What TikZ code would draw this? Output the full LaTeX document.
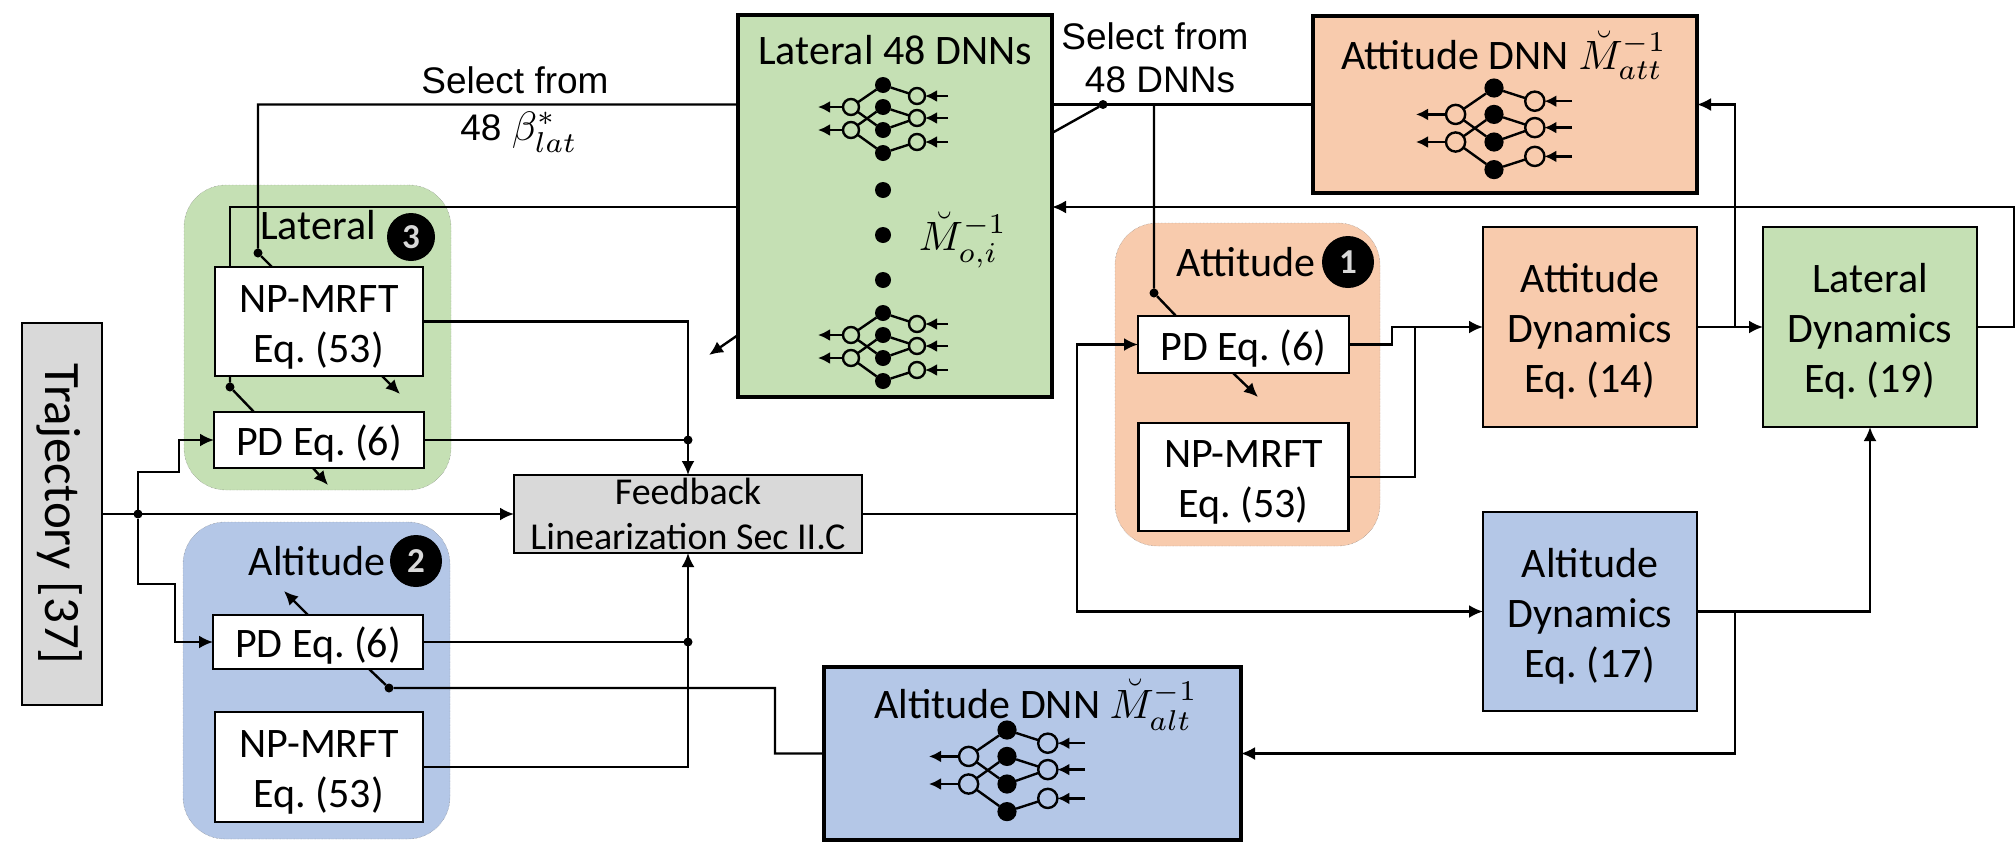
\documentclass[tikz,border=0pt]{standalone}
\usepackage[no-math]{fontspec}
\setmainfont{Carlito}
\newfontfamily\arialfont{Liberation Sans}
\usepackage{amsmath}
\usetikzlibrary{positioning, arrows.meta}
\definecolor{attfill}{HTML}{F8CBAD}
\definecolor{latfill}{HTML}{C5E0B4}
\definecolor{altfill}{HTML}{B4C7E7}
\definecolor{grayfill}{HTML}{D9D9D9}
\newcommand{\bigmath}[1]{\scalebox{4.1}{\normalsize$#1$}}
\newcommand{\lowtext}{\rule{0pt}{38pt}}
\newcommand{\dnnicon}[4]{%
  \foreach \k/\yy in {1/0,2/22,3/45,4/68}
    \node[fullnode, minimum size=#4*16pt] (#1b\k) at (#2,#3+#4*\yy) {};
  \foreach \k/\yy in {1/22,2/45}{
    \node[opennode, minimum size=#4*16pt] (#1l\k) at (#2-#4*32,#3+#4*\yy) {};
    \coordinate (#1o\k) at (#2-#4*65,#3+#4*\yy);
    \draw[smallarrow] (#1l\k) -- (#1o\k);}
  \foreach \k/\yy in {1/11,2/33,3/57}{
    \node[opennode, minimum size=#4*16pt] (#1r\k) at (#2+#4*34,#3+#4*\yy) {};
    \coordinate (#1i\k) at (#2+#4*65,#3+#4*\yy);
    \draw[smallarrow] (#1i\k) -- (#1r\k);}
  \foreach \a/\b in {l1/b1,l1/b3,l2/b2,l2/b4,b1/r1,b2/r2,b3/r2,b4/r3}
    \draw[line width=2.4pt] (#1\a) -- (#1\b);}
\begin{document}
\frenchspacing
\begin{tikzpicture}[x=1pt, y=-1pt,
    box/.style={rectangle, draw=black, fill=white, line width=2.4pt, align=center, inner sep=0pt, outer sep=0pt,
        font=\fontsize{42}{50}\selectfont},
    dnnbox/.style={box, line width=3.6pt},
    groupbox/.style={rectangle, rounded corners=42pt, draw=black!55, densely dotted, thin, inner sep=0pt, outer sep=0pt},
    grouplabel/.style={font=\fontsize{42}{50}\selectfont},
    selectlabel/.style={font=\fontsize{37}{44}\arialfont\selectfont, align=center},
    badge/.style={circle, fill=black, text=white!85!black, inner sep=0pt, minimum size=#1, font=\fontsize{35}{35}\bfseries\selectfont},
    fullnode/.style={circle, fill=black, inner sep=0pt, outer sep=0pt},
    opennode/.style={circle, draw=black, line width=2.4pt, inner sep=0pt, outer sep=0pt},
    dot/.style={circle, fill=black, inner sep=0pt, outer sep=0pt, minimum size=9pt},
    conn/.style={line width=2.4pt},
    arrow/.style={-{Latex[length=14pt, width=13pt]}, line width=2.4pt},
    smallarrow/.style={-{Latex[length=12pt, width=12pt]}, line width=2.4pt}]
\useasboundingbox (0,0) rectangle (2016,860);

\node[groupbox, fill=latfill, minimum width=267pt, minimum height=305pt] (groupLat) at (317.5,337.5) {};
\node[groupbox, fill=altfill, minimum width=267pt, minimum height=317pt] (groupAlt) at (316.5,680.5) {};
\node[groupbox, fill=attfill, minimum width=265pt, minimum height=323pt] (groupAtt) at (1247.5,384.5) {};

\node[box, fill=grayfill, minimum width=80pt, minimum height=382pt] (traj) at (62,514) {};
\node[rotate=-90, font=\fontsize{51}{51}\selectfont] (trajText) at (60,514) {Trajectory [37]};
\node[box, fill=grayfill, minimum width=348pt, minimum height=78pt, font=\fontsize{38}{45}\selectfont] (feedback) at (688,514) {Feedback\\Linearization Sec II.C};

\node[box, minimum width=208pt, minimum height=109pt] (npLat) at (319,321.5) {\lowtext NP-MRFT\\Eq. (53)};
\node[box, minimum width=210pt, minimum height=56pt, below=36pt of npLat] (pdLat) {\lowtext PD Eq. (6)};
\node[box, minimum width=210pt, minimum height=54pt] (pdAlt) at (318,642) {\lowtext PD Eq. (6)};
\node[box, minimum width=208pt, minimum height=110pt] (npAlt) at (319,767) {\lowtext NP-MRFT\\Eq. (53)};
\node[box, minimum width=211pt, minimum height=57pt] (pdAtt) at (1243.5,344.5) {\lowtext PD Eq. (6)};
\node[box, minimum width=210pt, minimum height=108pt, below=50pt of pdAtt] (npAtt) {\lowtext NP-MRFT\\Eq. (53)};

\node[grouplabel] (labLat) at (318,225) {Lateral};
\node[badge=48pt] (numLat) at (411,237) {3};
\node[grouplabel] (labAlt) at (317,561) {Altitude};
\node[badge=52pt] (numAlt) at (416,561) {2};
\node[grouplabel] (labAtt) at (1246,262) {Attitude};
\node[badge=52pt] (numAtt) at (1348,262) {1};

\node[dnnbox, fill=latfill, minimum width=314pt, minimum height=382pt] (latDnn) at (895,206) {};
\node[grouplabel] (latDnnText) at (895,50) {Lateral 48 DNNs};
\node[grouplabel] (latDnnSym) at (963,240) {\bigmath{\breve{M}_{o,i}^{-1}}};
\node[dnnbox, fill=attfill, minimum width=384pt, minimum height=177pt] (attDnn) at (1505,104.5) {};
\node[grouplabel] (attDnnText) at (1504,55) {Attitude DNN \bigmath{\breve{M}_{att}^{-1}}};
\node[dnnbox, fill=altfill, minimum width=417pt, minimum height=173pt] (altDnn) at (1032.5,753.5) {};
\node[grouplabel] (altDnnText) at (1036,705) {Altitude DNN \bigmath{\breve{M}_{alt}^{-1}}};

\node[box, fill=attfill, minimum width=214pt, minimum height=200pt] (attDyn) at (1590,327) {\lowtext Attitude\\Dynamics\\Eq. (14)};
\node[box, fill=latfill, minimum width=214pt, minimum height=200pt, right=66pt of attDyn] (latDyn) {\lowtext Lateral\\Dynamics\\Eq. (19)};
\node[box, fill=altfill, minimum width=214pt, minimum height=199pt, below=85pt of attDyn] (altDyn) {\lowtext Altitude\\Dynamics\\Eq. (17)};

\dnnicon{netA}{883}{85}{1}
\foreach \k/\yy in {1/190,2/235,3/280} \node[fullnode, minimum size=16pt] (bigDot\k) at (883,\yy) {};
\dnnicon{netB}{883}{313}{1}
\dnnicon{netC}{1494}{88}{1.2}
\dnnicon{netD}{1007}{730}{1.2}

\node[selectlabel] (selLatA) at (515,80) {Select from};
\node[selectlabel] (selLatB) at (519,132) {48 \bigmath{\beta_{lat}^{*}}};
\node[selectlabel] (selDnnA) at (1155,36) {Select from};
\node[selectlabel] (selDnnB) at (1160,80) {48 DNNs};

\node[dot] (dotInput) at (138,514) {};
\node[dot] (dotSelLat) at (258,253) {};
\node[dot] (dotNpLat) at (230,387) {};
\node[dot] (dotDnn) at (1103,104.5) {};
\node[dot] (dotSelAtt) at (1154,293) {};
\node[dot] (dotAlt) at (389,688) {};
\node[dot] (dotFbLat) at (feedback.north |- pdLat.east) {};
\node[dot] (dotFbAlt) at (feedback.south |- pdAlt.east) {};

\coordinate (upLat) at (179,472);
\coordinate (downAlt) at (175,584);
\coordinate (npLatTop) at (230,267);
\coordinate (npLatSel) at (272,267);
\coordinate (npLatBot) at (230,376);
\coordinate (pdLatTop) at (254,412);
\coordinate (npLatOut) at (382,376);
\coordinate (npLatEnd) at (400,394);
\coordinate (pdLatOut) at (313,468);
\coordinate (pdLatEnd) at (328,485);
\coordinate (fbCorner) at (2014,207);
\coordinate (dnnStubA) at (1052,133);
\coordinate (dnnStubB) at (738,335);
\coordinate (dnnStubEnd) at (709,355);
\coordinate (pdAttTop) at (1176,316);
\coordinate (pdAttOut) at (1233,373);
\coordinate (pdAttEnd) at (1258,397);
\coordinate (attJoinA) at (1392,327);
\coordinate (attJoinB) at (1415,327);
\coordinate (splitFb) at (1077,514);
\coordinate (attTap) at (1735,327);
\coordinate (altTap) at (1735,611.5);
\coordinate (pdAltTop) at (308,615);
\coordinate (pdAltEnd) at (284,591);
\coordinate (pdAltBot) at (369,669);
\coordinate (altBend) at (775,753.5);

\draw[arrow] (traj.east) -- (feedback.west);
\draw[arrow] (dotInput) |- (upLat) |- (pdLat.west);
\draw[arrow] (dotInput) |- (downAlt) |- (pdAlt.west);
\draw[arrow] (npLat.east) -| (feedback.north);
\draw[conn] (pdLat.east) -- (dotFbLat);
\draw[arrow] (npAlt.east) -| (feedback.south);
\draw[conn] (pdAlt.east) -- (dotFbAlt);
\draw[conn] (feedback.east) -- (splitFb);
\draw[arrow] (splitFb) |- (pdAtt.west);
\draw[arrow] (splitFb) |- (altDyn.west);
\draw[arrow] (pdAtt.east) -| (attJoinA) -- (attDyn.west);
\draw[conn] (npAtt.east) -| (attJoinB);
\draw[arrow] (attDyn.east) -- (latDyn.west);
\draw[arrow] (attTap) |- (attDnn.east);
\draw[arrow] (altDyn.east) -| (latDyn.south);
\draw[arrow] (altTap) |- (altDnn.east);
\draw[arrow] (latDyn.east) -| (fbCorner) -- (latDnn.east |- fbCorner);
\draw[conn] (latDnn.west |- fbCorner) -| (npLatTop);
\draw[conn] (latDnn.west |- attDnn.west) -| (dotSelLat) -- (npLatSel);
\draw[conn] (attDnn.west) -- (latDnn.east |- attDnn.west);
\draw[conn] (dnnStubA) -- (dotDnn);
\draw[conn] (dotSelAtt |- attDnn.west) -- (dotSelAtt) -- (pdAttTop);
\draw[arrow] (dnnStubB) -- (dnnStubEnd);
\draw[conn] (npLatBot) -- (dotNpLat) -- (pdLatTop);
\draw[arrow] (npLatOut) -- (npLatEnd);
\draw[arrow] (pdLatOut) -- (pdLatEnd);
\draw[arrow] (pdAttOut) -- (pdAttEnd);
\draw[arrow] (pdAltTop) -- (pdAltEnd);
\draw[conn] (pdAltBot) -- (dotAlt) -| (altBend) -- (altDnn.west);
\end{tikzpicture}
\end{document}
